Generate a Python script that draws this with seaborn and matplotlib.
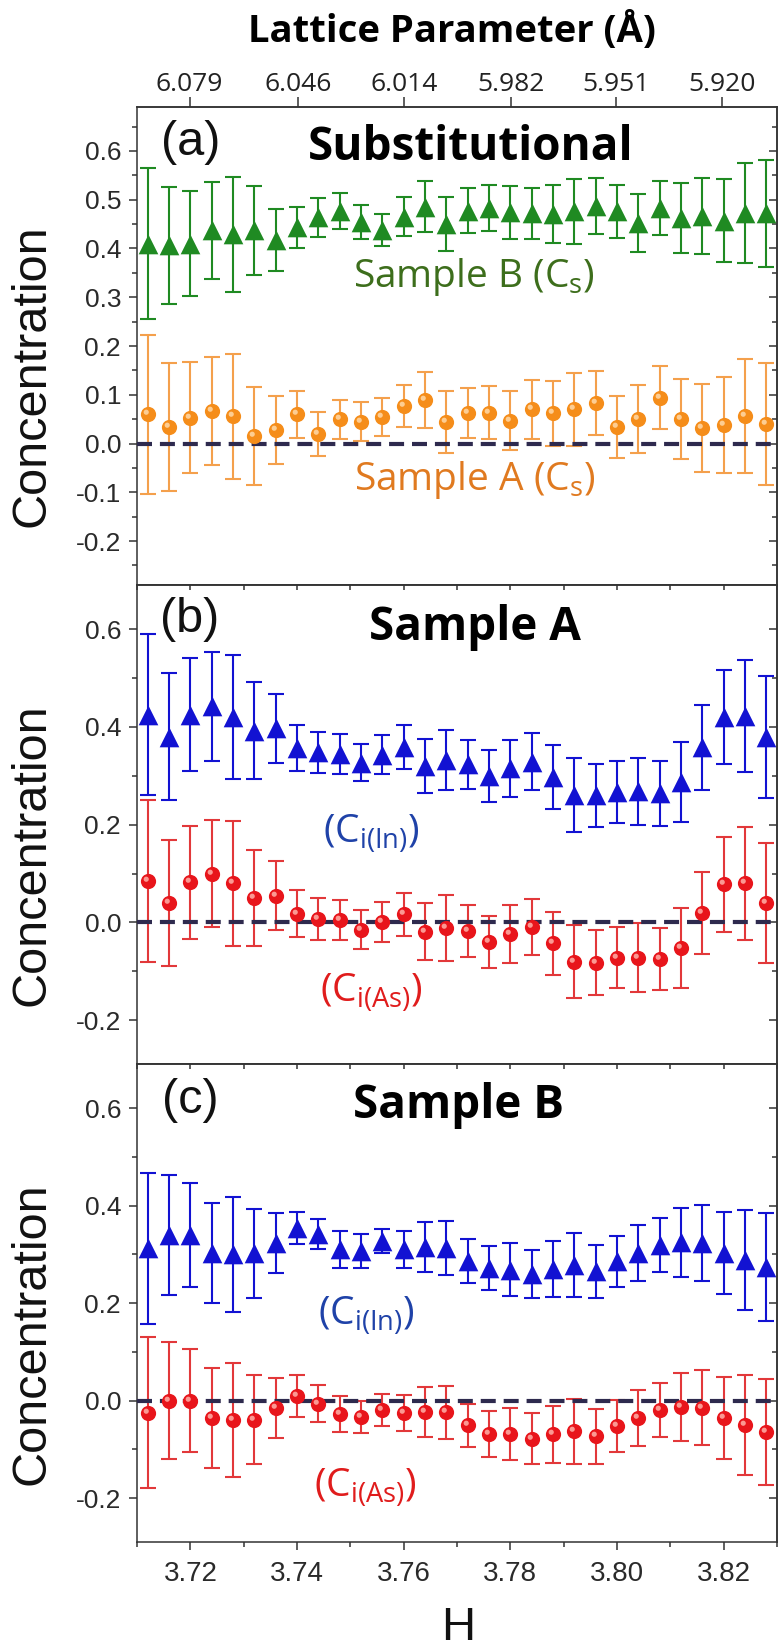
import numpy as np
import pandas as pd
import matplotlib
matplotlib.use("Agg")
import matplotlib.pyplot as plt
import seaborn as sns
from matplotlib.path import Path
from matplotlib.ticker import MultipleLocator, FormatStrFormatter, FixedLocator

# ---------------- data ----------------
H = [3.712, 3.716, 3.720, 3.724, 3.728, 3.732, 3.736, 3.740, 3.744, 3.748,
     3.752, 3.756, 3.760, 3.764, 3.768, 3.772, 3.776, 3.780, 3.784, 3.788,
     3.792, 3.796, 3.800, 3.804, 3.808, 3.812, 3.816, 3.820, 3.824, 3.828]

# (a) substitutional
subB = [0.410, 0.407, 0.410, 0.437, 0.429, 0.437, 0.417, 0.443, 0.464, 0.477,
        0.455, 0.437, 0.465, 0.486, 0.450, 0.477, 0.483, 0.474, 0.472, 0.471,
        0.476, 0.487, 0.476, 0.452, 0.483, 0.462, 0.466, 0.457, 0.473, 0.472]
subB_err = [0.155, 0.120, 0.107, 0.100, 0.118, 0.092, 0.063, 0.042, 0.040, 0.037,
            0.035, 0.033, 0.040, 0.052, 0.055, 0.046, 0.047, 0.054, 0.052, 0.059,
            0.067, 0.058, 0.054, 0.059, 0.056, 0.072, 0.078, 0.085, 0.103, 0.110]
subA = [0.060, 0.034, 0.053, 0.067, 0.056, 0.016, 0.028, 0.060, 0.020, 0.050,
        0.045, 0.054, 0.077, 0.089, 0.044, 0.063, 0.063, 0.047, 0.070, 0.062,
        0.070, 0.083, 0.034, 0.051, 0.094, 0.051, 0.032, 0.038, 0.056, 0.040]
subA_err = [0.163, 0.131, 0.114, 0.110, 0.128, 0.100, 0.070, 0.048, 0.045, 0.040,
            0.040, 0.039, 0.044, 0.057, 0.063, 0.051, 0.054, 0.061, 0.060, 0.067,
            0.075, 0.065, 0.063, 0.070, 0.064, 0.082, 0.090, 0.098, 0.117, 0.125]

# (b) sample A interstitials
A_In = [0.425, 0.380, 0.425, 0.442, 0.420, 0.392, 0.397, 0.357, 0.348, 0.345,
        0.327, 0.343, 0.358, 0.320, 0.332, 0.323, 0.300, 0.315, 0.329, 0.297,
        0.260, 0.260, 0.267, 0.268, 0.264, 0.287, 0.358, 0.420, 0.422, 0.379]
A_In_err = [0.165, 0.130, 0.115, 0.112, 0.127, 0.099, 0.070, 0.047, 0.042, 0.041,
            0.038, 0.040, 0.045, 0.056, 0.061, 0.050, 0.053, 0.058, 0.058, 0.066,
            0.076, 0.064, 0.063, 0.068, 0.066, 0.081, 0.087, 0.096, 0.115, 0.125]
A_As = [0.085, 0.040, 0.082, 0.100, 0.080, 0.050, 0.055, 0.018, 0.007, 0.005,
        -0.015, 0.001, 0.017, -0.019, -0.011, -0.018, -0.040, -0.024, -0.009, -0.043,
        -0.080, -0.082, -0.072, -0.072, -0.075, -0.052, 0.020, 0.078, 0.080, 0.040]
A_As_err = [0.165, 0.128, 0.115, 0.110, 0.128, 0.099, 0.070, 0.048, 0.043, 0.041,
            0.040, 0.040, 0.044, 0.058, 0.067, 0.053, 0.053, 0.059, 0.058, 0.065,
            0.075, 0.066, 0.063, 0.070, 0.064, 0.081, 0.084, 0.097, 0.116, 0.122]

# (c) sample B interstitials
B_In = [0.313, 0.340, 0.340, 0.303, 0.300, 0.302, 0.323, 0.355, 0.342, 0.311,
        0.307, 0.327, 0.311, 0.315, 0.313, 0.287, 0.272, 0.269, 0.260, 0.270,
        0.278, 0.265, 0.286, 0.303, 0.319, 0.325, 0.324, 0.303, 0.289, 0.274]
B_In_err = [0.155, 0.123, 0.106, 0.103, 0.118, 0.092, 0.062, 0.033, 0.031, 0.038,
            0.034, 0.025, 0.038, 0.052, 0.056, 0.045, 0.046, 0.054, 0.050, 0.058,
            0.066, 0.055, 0.052, 0.058, 0.056, 0.071, 0.078, 0.085, 0.103, 0.110]
B_As = [-0.025, 0.000, 0.000, -0.036, -0.040, -0.039, -0.015, 0.009, -0.006, -0.028,
        -0.033, -0.019, -0.026, -0.023, -0.024, -0.051, -0.068, -0.068, -0.078, -0.069,
        -0.063, -0.073, -0.052, -0.036, -0.019, -0.013, -0.015, -0.035, -0.050, -0.065]
B_As_err = [0.155, 0.120, 0.105, 0.102, 0.117, 0.092, 0.062, 0.043, 0.038, 0.037,
            0.033, 0.033, 0.037, 0.051, 0.055, 0.045, 0.047, 0.053, 0.052, 0.059,
            0.066, 0.056, 0.054, 0.058, 0.055, 0.070, 0.077, 0.084, 0.103, 0.109]

lattice_ticks = [6.079, 6.046, 6.014, 5.982, 5.951, 5.920]
LATT_K = 22.613  # a = K / H

# ---------------- style ----------------
sns.set_style("ticks")
plt.rcParams["font.family"] = ["Liberation Sans", "DejaVu Sans"]
plt.rcParams["axes.linewidth"] = 1.1
plt.rcParams["mathtext.default"] = "regular"

SPINE = "#333333"
GREEN, GREEN_T = "#1f8a22", "#3d6e1c"
ORANGE, ORANGE_E, ORANGE_T = "#f58d1a", "#f4a04c", "#e07a20"
BLUE, BLUE_T = "#1212d2", "#1f42a8"
RED, RED_E, RED_T = "#e8151b", "#e2383a", "#e01c1c"
DASH = "#2e2a4e"

# highlight marker for "sphere" look
theta = np.linspace(0, 2 * np.pi, 40)
verts = [(-1, -1), (1, 1)] + list(zip(-0.30 + 0.34 * np.cos(theta), 0.30 + 0.34 * np.sin(theta)))
codes = [Path.MOVETO, Path.MOVETO, Path.MOVETO] + [Path.LINETO] * 38 + [Path.CLOSEPOLY]
HILITE = Path(verts, codes)

fig = plt.figure(figsize=(7.78, 16.52), dpi=100)
FW, FH = 778, 1652
L = 137 / FW
W = 640 / FW
axA = fig.add_axes([L, 1 - 585 / FH, W, 478 / FH])
axB = fig.add_axes([L, 1 - 1064.3 / FH, W, 479.3 / FH])
axC = fig.add_axes([L, 1 - 1542 / FH, W, 477.7 / FH])

BALL_S = 120
TRI_S = 200


def series(ax, y, err, color, ecolor, kind, hl=None):
    ax.errorbar(H, y, yerr=err, fmt="none", ecolor=ecolor, elinewidth=1.5,
                capsize=6, capthick=1.5, zorder=2)
    df = pd.DataFrame({"H": H, "c": y})
    if kind == "tri":
        sns.scatterplot(data=df, x="H", y="c", ax=ax, marker="^", s=TRI_S,
                        color=color, linewidth=0, zorder=5, legend=False)
    else:
        sns.scatterplot(data=df, x="H", y="c", ax=ax, marker="o", s=BALL_S,
                        color=color, linewidth=0, zorder=5, legend=False)
        ax.scatter(H, y, marker=HILITE, s=BALL_S, color=hl, linewidths=0,
                   alpha=0.85, zorder=6)


def style(ax, major_y, minor_y, bottom_labels, top_kind):
    ax.set_xlim(3.71, 3.83)
    ax.set_ylim(-0.29, 0.69)
    ax.set_xlabel("")
    ax.set_ylabel("")
    for s in ax.spines.values():
        s.set_color(SPINE)
        s.set_linewidth(1.1)
        s.set_visible(True)
    ax.xaxis.set_major_locator(MultipleLocator(0.02))
    ax.xaxis.set_minor_locator(MultipleLocator(0.01))
    ax.yaxis.set_major_locator(MultipleLocator(major_y))
    ax.yaxis.set_minor_locator(MultipleLocator(minor_y))
    ax.yaxis.set_major_formatter(FormatStrFormatter("%.1f"))
    ax.tick_params(axis="y", which="major", direction="out", length=6, width=1.1,
                   color=SPINE, labelsize=19, labelcolor="#2a2a2a", pad=5.5)
    ax.tick_params(axis="y", which="minor", direction="out", length=3.6, width=1.1, color=SPINE)
    if bottom_labels:
        ax.xaxis.set_major_formatter(FormatStrFormatter("%.2f"))
        ax.tick_params(axis="x", which="major", direction="out", length=6, width=1.1,
                       color=SPINE, labelsize=20, labelcolor="#2a2a2a", pad=7.5)
        ax.tick_params(axis="x", which="minor", direction="out", length=3.6, width=1.1, color=SPINE)
    else:
        ax.tick_params(axis="x", which="both", bottom=False, labelbottom=False)
    # right: inward ticks
    sy = ax.secondary_yaxis("right")
    sy.yaxis.set_major_locator(MultipleLocator(major_y))
    sy.yaxis.set_minor_locator(MultipleLocator(minor_y))
    sy.tick_params(which="major", direction="in", length=6, width=1.1, color=SPINE, labelright=False)
    sy.tick_params(which="minor", direction="in", length=3.6, width=1.1, color=SPINE)
    sy.spines["right"].set_color(SPINE)
    if top_kind == "inner":
        sx = ax.secondary_xaxis("top")
        sx.xaxis.set_major_locator(MultipleLocator(0.01))
        sx.tick_params(which="major", direction="in", length=3.6, width=1.1, color=SPINE, labeltop=False)
        sx.spines["top"].set_color(SPINE)
    else:
        sx = ax.secondary_xaxis("top", functions=(lambda h: LATT_K / h, lambda a: LATT_K / a))
        sx.xaxis.set_major_locator(FixedLocator(lattice_ticks))
        sx.xaxis.set_major_formatter(FormatStrFormatter("%.3f"))
        sx.xaxis.set_minor_locator(FixedLocator([]))
        sx.tick_params(which="major", direction="out", length=7, width=1.1, color=SPINE,
                       labelsize=19, labelcolor="#222222", pad=0.5)
        for lab in sx.get_xticklabels():
            lab.set_family("Open Sans")
        sx.spines["top"].set_color(SPINE)
    ax.axhline(0, color=DASH, lw=3.0, ls=(0, (3.6, 1.9)), zorder=4)
    ax.text(-0.1645, 0.437, "Concentration", rotation=90, ha="center", va="center",
            fontsize=35, color="#111111", transform=ax.transAxes)


# ---- panel a ----
series(axA, subB, subB_err, GREEN, GREEN, "tri")
series(axA, subA, subA_err, ORANGE, ORANGE_E, "ball", "#ffd9a8")
style(axA, 0.1, 0.05, False, "lattice")
axA.text(0.084, 0.925, "(a)", fontsize=35, ha="center", va="center", color="#111111",
         transform=axA.transAxes)
axA.text(0.522, 0.889, "Substitutional", fontsize=33, fontweight="bold", family="Open Sans",
         ha="center", va="baseline", color="#000000", transform=axA.transAxes)
axA.text(0.527, 0.624, r"Sample B (C$_\mathregular{s}$)", fontsize=28, family="Open Sans",
         ha="center", va="baseline", color=GREEN_T, transform=axA.transAxes)
axA.text(0.527, 0.199, r"Sample A (C$_\mathregular{s}$)", fontsize=28, family="Open Sans",
         ha="center", va="baseline", color=ORANGE_T, transform=axA.transAxes)

# ---- panel b ----
series(axB, A_In, A_In_err, BLUE, BLUE, "tri")
series(axB, A_As, A_As_err, RED, RED_E, "ball", "#ffb0a8")
style(axB, 0.2, 0.1, False, "inner")
axB.text(0.083, 0.927, "(b)", fontsize=35, ha="center", va="center", color="#111111",
         transform=axB.transAxes)
axB.text(0.528, 0.885, "Sample A", fontsize=33, fontweight="bold", family="Open Sans",
         ha="center", va="baseline", color="#000000", transform=axB.transAxes)
axB.text(0.366, 0.462, r"(C$_\mathregular{i(In)}$)", fontsize=28, family="Open Sans",
         ha="center", va="baseline", color=BLUE_T, transform=axB.transAxes)
axB.text(0.366, 0.130, r"(C$_\mathregular{i(As)}$)", fontsize=28, family="Open Sans",
         ha="center", va="baseline", color=RED_T, transform=axB.transAxes)

# ---- panel c ----
series(axC, B_In, B_In_err, BLUE, BLUE, "tri")
series(axC, B_As, B_As_err, RED, RED_E, "ball", "#ffb0a8")
style(axC, 0.2, 0.1, True, "inner")
axC.text(0.083, 0.925, "(c)", fontsize=35, ha="center", va="center", color="#111111",
         transform=axC.transAxes)
axC.text(0.503, 0.8876, "Sample B", fontsize=33, fontweight="bold", family="Open Sans",
         ha="center", va="baseline", color="#000000", transform=axC.transAxes)
axC.text(0.358, 0.454, r"(C$_\mathregular{i(In)}$)", fontsize=28, family="Open Sans",
         ha="center", va="baseline", color=BLUE_T, transform=axC.transAxes)
axC.text(0.356, 0.095, r"(C$_\mathregular{i(As)}$)", fontsize=28, family="Open Sans",
         ha="center", va="baseline", color=RED_T, transform=axC.transAxes)

fig.text(452 / FW, 1 - 31 / FH, "Lattice Parameter (Å)", fontsize=27.5, fontweight="bold",
         family="Open Sans", ha="center", va="center", color="#000000")
fig.text(458 / FW, 1 - 1650 / FH, "H", fontsize=34, ha="center", va="bottom", color="#111111")

fig.savefig("out.png", dpi=100, facecolor="white")
